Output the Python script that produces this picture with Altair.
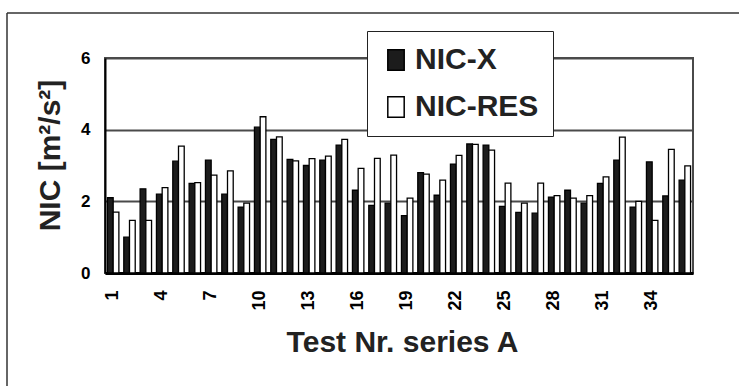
import altair as alt
import pandas as pd

tests = list(range(1, 37))
nic_x = [2.1, 1.0, 2.35, 2.2, 3.12, 2.5, 3.15, 2.2, 1.84, 4.07,
         3.73, 3.17, 3.0, 3.15, 3.57, 2.31, 1.89, 1.95, 1.6, 2.8,
         2.17, 3.04, 3.6, 3.57, 1.86, 1.69, 1.67, 2.12, 2.31, 1.95,
         2.5, 3.15, 1.84, 3.1, 2.15, 2.59]
nic_res = [1.7, 1.47, 1.47, 2.38, 3.54, 2.52, 2.73, 2.85, 1.95, 4.36,
           3.8, 3.13, 3.19, 3.26, 3.73, 2.92, 3.2, 3.29, 2.09, 2.76,
           2.59, 3.28, 3.59, 3.43, 2.51, 1.95, 2.51, 2.16, 2.09, 2.16,
           2.68, 3.79, 2.0, 1.47, 3.45, 2.99]
series_names = ["NIC-X", "NIC-RES"]
x_tick_values = [1, 4, 7, 10, 13, 16, 19, 22, 25, 28, 31, 34]
y_tick_values = [0, 2, 4, 6]

rows = []
for t, a, b in zip(tests, nic_x, nic_res):
    rows.append({"test": t, "series": "NIC-X", "value": a})
    rows.append({"test": t, "series": "NIC-RES", "value": b})
df = pd.DataFrame(rows)

FONT = "Liberation Sans"

bars = alt.Chart(df).mark_bar(stroke="black", strokeWidth=1.3).encode(
    x=alt.X("test:O",
            scale=alt.Scale(paddingInner=0.3, paddingOuter=0.15),
            axis=alt.Axis(values=x_tick_values, labelAngle=270, ticks=False,
                          labelPadding=17, labelFontSize=18, labelFont=FONT,
                          labelFontWeight="bold", labelColor="black",
                          domainColor="black", domainWidth=3,
                          title="Test Nr. series A", titleFont=FONT,
                          titleFontSize=30, titleFontWeight="bold",
                          titleColor="#222", titleX=297, titleY=78,
                          titleAlign="center", titleBaseline="alphabetic")),
    xOffset=alt.XOffset("series:N", sort=series_names,
                        scale=alt.Scale(paddingInner=0, paddingOuter=0)),
    y=alt.Y("value:Q",
            scale=alt.Scale(domain=[0, 6], nice=False),
            axis=alt.Axis(values=y_tick_values, ticks=False, labelPadding=15,
                          labelFontSize=17, labelFont=FONT, labelFontWeight="bold",
                          labelColor="black", domainColor="black", domainWidth=2,
                          grid=True, gridColor="#4a4a4a", gridWidth=2,
                          title="NIC [m²/s²]", titleFont=FONT, titleFontSize=30,
                          titleFontWeight="bold", titleColor="#222",
                          titleAngle=270, titleX=-46, titleY=97,
                          titleAlign="center", titleBaseline="alphabetic")),
    color=alt.Color("series:N",
                    scale=alt.Scale(domain=series_names, range=["#1c1c1c", "white"]),
                    legend=alt.Legend(title=None, orient="none", legendX=262, legendY=-27,
                                      symbolType="M-0.8,-1L0.8,-1L0.8,1L-0.8,1Z",
                                      symbolSize=420,
                                      symbolStrokeColor="black", symbolStrokeWidth=1.5,
                                      labelFont=FONT, labelFontSize=30,
                                      labelFontWeight="bold", labelColor="#222",
                                      labelOffset=4, rowPadding=17, padding=14,
                                      fillColor="white", strokeColor="#222")),
)

frame_df = pd.DataFrame({"k": [0]})
frame_left = alt.Chart(frame_df).mark_rule(color="#333", strokeWidth=1.5).encode(
    x=alt.value(-98), y=alt.value(-45), y2=alt.value(330))
frame_top = alt.Chart(frame_df).mark_rule(color="#333", strokeWidth=1.5).encode(
    x=alt.value(-98), x2=alt.value(640), y=alt.value(-45))

chart = alt.layer(frame_left, frame_top, bars).properties(
    width=588, height=215,
    autosize=alt.AutoSizeParams(type="none"),
    padding={"left": 105, "top": 58, "right": 46, "bottom": 113},
    background="white",
).configure_view(stroke="#4a4a4a", strokeWidth=2)

chart.save("out.html", embed_options={"renderer": "svg", "actions": False})
